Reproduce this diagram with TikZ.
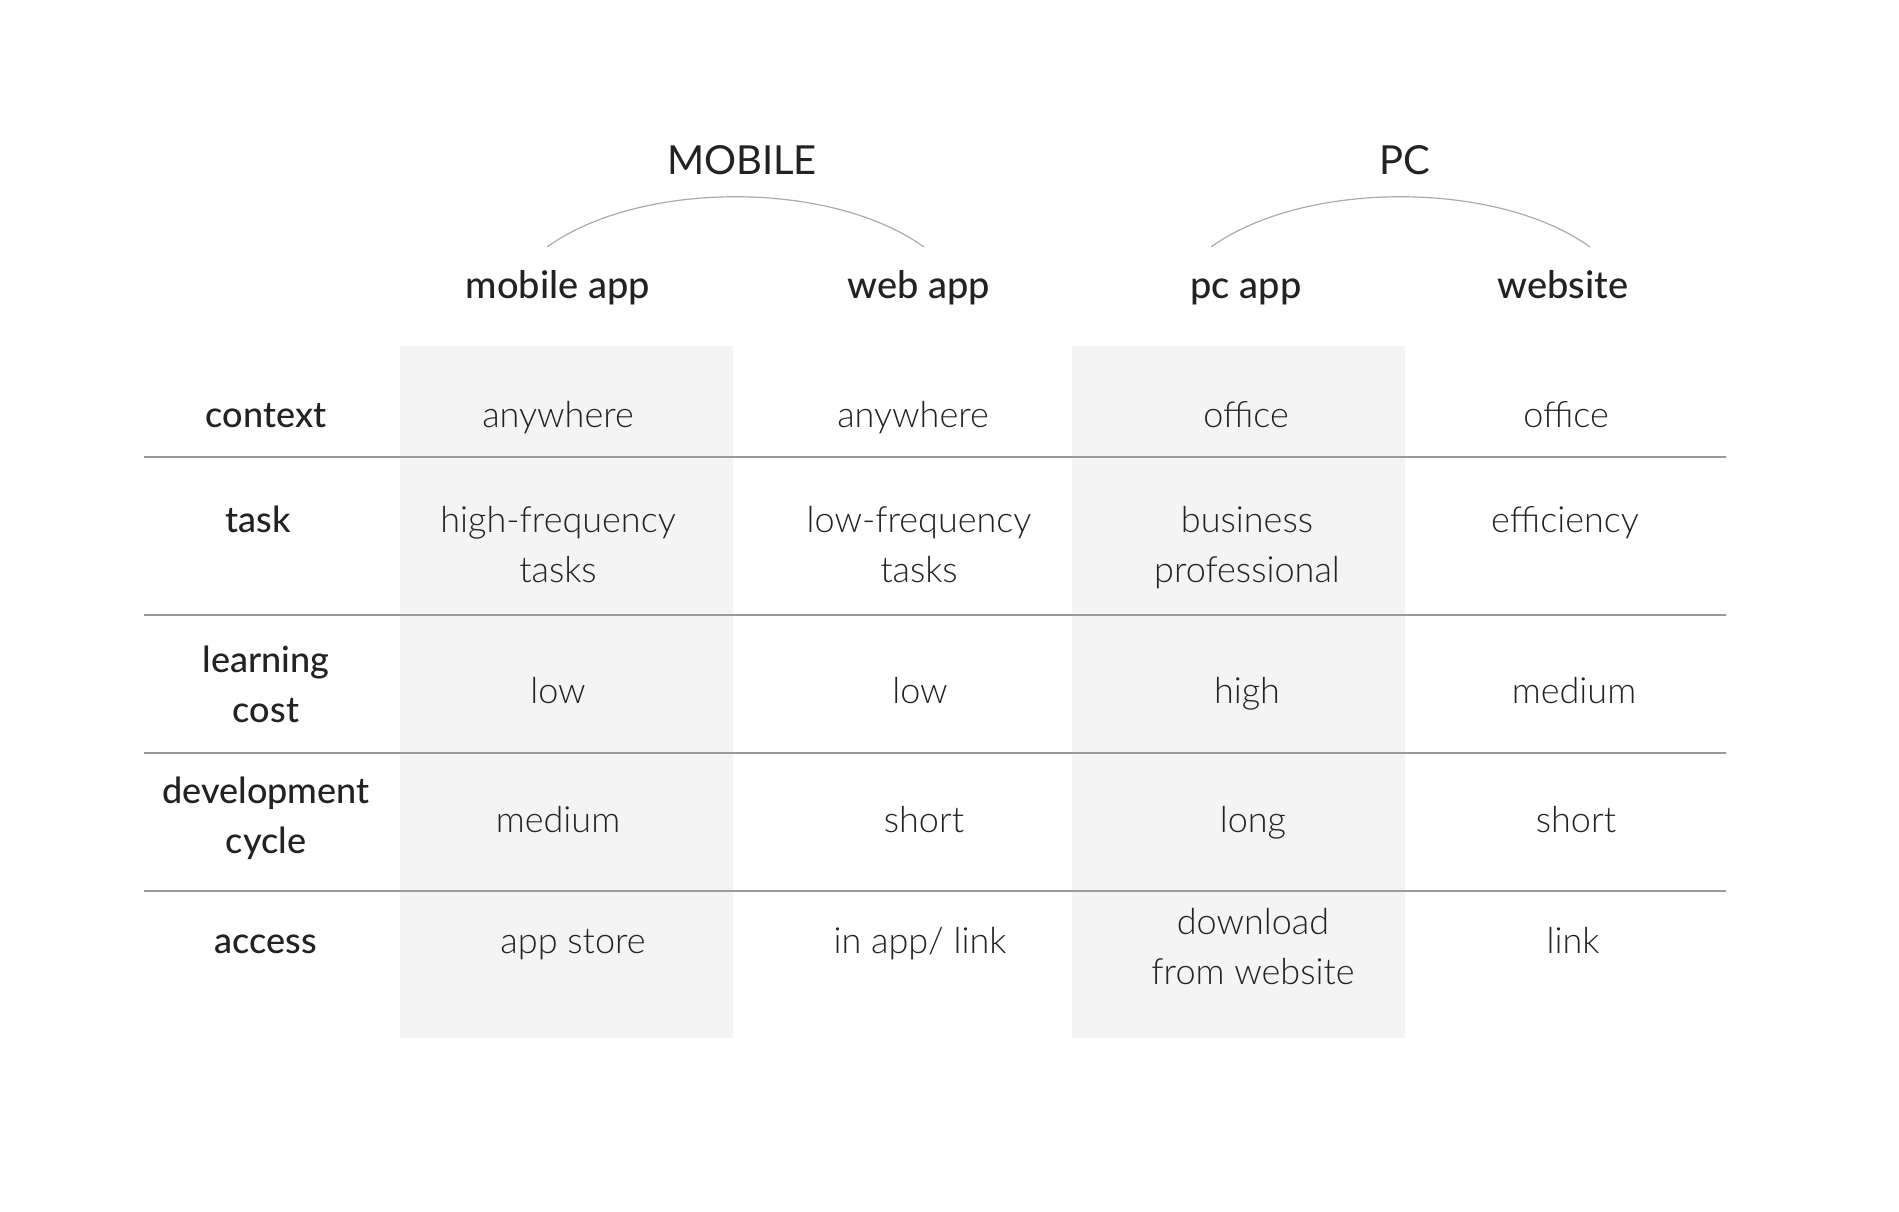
\documentclass[tikz,border=0pt]{standalone}
\usepackage{fontspec}
\setmainfont{Lato}
\newfontfamily\bodyfont{Lato Light}
\newfontfamily\headfont{Lato Medium}
\definecolor{txt}{HTML}{222222}
\definecolor{band}{HTML}{F4F4F4}
\definecolor{rule}{HTML}{9A9A9A}
\definecolor{arcc}{HTML}{AAAAAA}
\begin{document}
\begin{tikzpicture}[x=1pt,y=-1pt,
  cell/.style={font=\bodyfont\fontsize{36}{50}\selectfont, text=txt, align=center, inner sep=0pt, anchor=base},
  rowlab/.style={font=\headfont\fontsize{36}{50}\selectfont, text=txt, align=center, inner sep=0pt, anchor=base},
  colhead/.style={font=\headfont\fontsize{38}{50}\selectfont, text=txt, inner sep=0pt, anchor=base},
  grouphead/.style={font=\fontsize{40}{50}\selectfont, text=txt, inner sep=0pt, anchor=base},
  bandfill/.style={fill=band, draw=none},
  rowrule/.style={draw=rule, line width=1.5pt},
  grouparc/.style={draw=arcc, line width=1.2pt}
]
\useasboundingbox (0,0) rectangle (1899,1211);
% shaded columns
\fill[bandfill] (400,346) rectangle (733,1038);
\fill[bandfill] (1072,346) rectangle (1405,1038);
% row rules
\foreach \yy in {457,615,753,891} \draw[rowrule] (144,\yy) -- (1726,\yy);
% group headers
\node[grouphead] (mobile) at (742,174) {MOBILE};
\node[grouphead] (pc) at (1405,174) {PC};
\coordinate (ma1) at (547,247); \coordinate (ma2) at (924,247);
\coordinate (pa1) at (1211,247); \coordinate (pa2) at (1590,247);
\draw[grouparc] (ma1) .. controls (640,180) and (831,180) .. (ma2);
\draw[grouparc] (pa1) .. controls (1304,180) and (1497,180) .. (pa2);
% column headers
\node[colhead] (hmob) at (558,298) {mobile app};
\node[colhead] (hweb) at (919,298) {web app};
\node[colhead] (hpc) at (1246,298) {pc app};
\node[colhead] (hsite) at (1563,298) {website};
% row labels (multi-line nodes: base = last line)
\node[rowlab] (lctx) at (266,427) {context};
\node[rowlab] (ltask) at (258,532) {task};
\node[rowlab] (llearn) at (266,722) {learning\\cost};
\node[rowlab] (ldev) at (266,853) {development\\cycle};
\node[rowlab] (lacc) at (266,953) {access};
% context
\node[cell] (c11) at (558,427) {anywhere};
\node[cell] (c12) at (913,427) {anywhere};
\node[cell] (c13) at (1246,427) {office};
\node[cell] (c14) at (1566,427) {office};
% task
\node[cell] (c21) at (558,582) {high-frequency\\tasks};
\node[cell] (c22) at (919,582) {low-frequency\\tasks};
\node[cell] (c23) at (1247,582) {business\\professional};
\node[cell] (c24) at (1565,532) {efficiency};
% learning cost
\node[cell] (c31) at (558,703) {low};
\node[cell] (c32) at (920,703) {low};
\node[cell] (c33) at (1247,703) {high};
\node[cell] (c34) at (1574,703) {medium};
% development cycle
\node[cell] (c41) at (558,832) {medium};
\node[cell] (c42) at (924,832) {short};
\node[cell] (c43) at (1253,832) {long};
\node[cell] (c44) at (1576,832) {short};
% access
\node[cell] (c51) at (573,953) {app store};
\node[cell] (c52) at (920,953) {in app/ link};
\node[cell] (c53) at (1253,984) {download\\from website};
\node[cell] (c54) at (1573,953) {link};
\end{tikzpicture}
\end{document}
